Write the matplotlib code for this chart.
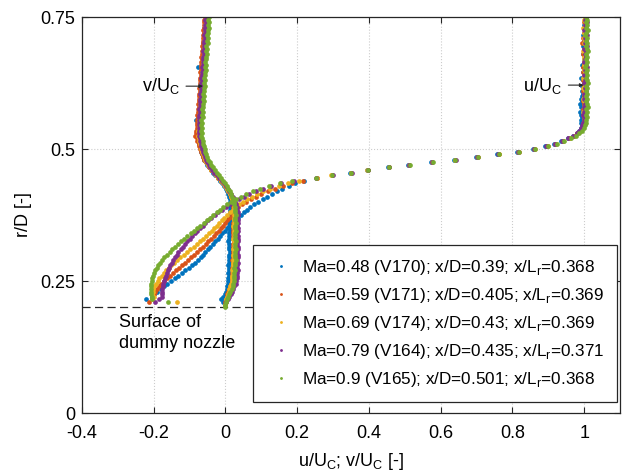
import matplotlib.pyplot as plt
import numpy as np

nan = np.nan

plt.rcParams.update({
    "font.size": 13,
    "font.family": "Liberation Sans",
    "mathtext.fontset": "custom",
    "mathtext.rm": "Liberation Sans",
    "axes.linewidth": 0.9,
})

# MATLAB default line colours
colors = ["#0072BD", "#D95319", "#EDB120", "#7E2F8E", "#77AC30"]

labels = [
    r"Ma=0.48 (V170); x/D=0.39; x/L$_\mathregular{r}$=0.368",
    r"Ma=0.59 (V171); x/D=0.405; x/L$_\mathregular{r}$=0.369",
    r"Ma=0.69 (V174); x/D=0.43; x/L$_\mathregular{r}$=0.369",
    r"Ma=0.79 (V164); x/D=0.435; x/L$_\mathregular{r}$=0.371",
    r"Ma=0.9 (V165); x/D=0.501; x/L$_\mathregular{r}$=0.368",
]

# radial positions of the PIV profile points
r_D = [
    0.750, 0.745, 0.740, 0.735, 0.730, 0.725, 0.720, 0.715, 0.710, 0.705,
    0.700, 0.695, 0.690, 0.685, 0.680, 0.675, 0.670, 0.665, 0.660, 0.655,
    0.650, 0.645, 0.640, 0.635, 0.630, 0.625, 0.620, 0.615, 0.610, 0.605,
    0.600, 0.595, 0.590, 0.585, 0.580, 0.575, 0.570, 0.565, 0.560, 0.555,
    0.550, 0.545, 0.540, 0.535, 0.530, 0.525, 0.520, 0.515, 0.510, 0.505,
    0.500, 0.495, 0.490, 0.485, 0.480, 0.475, 0.470, 0.465, 0.460, 0.455,
    0.450, 0.445, 0.440, 0.435, 0.430, 0.425, 0.420, 0.415, 0.410, 0.405,
    0.400, 0.395, 0.390, 0.385, 0.380, 0.375, 0.370, 0.365, 0.360, 0.355,
    0.350, 0.345, 0.340, 0.335, 0.330, 0.325, 0.320, 0.315, 0.310, 0.305,
    0.300, 0.295, 0.290, 0.285, 0.280, 0.275, 0.270, 0.265, 0.260, 0.255,
    0.250, 0.245, 0.240, 0.235, 0.230, 0.225, 0.220, 0.215, 0.210, 0.205, 0.200,
]

u_V170 = [
    1.004, 1.002, 1.006, 0.999, 1.003, 1.005, 1.001, 0.998, 1.003, 1.000,
    1.002, 0.997, 1.004, 1.001, 0.996, 1.003, 0.999, 1.002, 0.994, 0.998,
    1.001, 0.996, 1.003, 0.992, 0.998, 1.000, 0.995, 0.999, 0.993, 0.997,
    0.995, 0.990, 0.994, 0.988, 0.992, 0.996, 0.989, 0.991, 0.994, 0.990,
    0.991, 0.993, 0.990, 0.985, 0.980, 0.970, 0.955, 0.936, 0.915, 0.892,
    0.858, 0.812, 0.758, 0.699, 0.637, 0.573, 0.509, 0.452, 0.394, 0.347,
    0.296, 0.255, 0.220, 0.195, 0.176, 0.158, 0.143, 0.130, 0.117, 0.104,
    0.091, 0.080, 0.069, 0.060, 0.051, 0.042, 0.034, 0.026, 0.019, 0.012,
    0.005, -0.002, -0.009, -0.015, -0.022, -0.029, -0.036, -0.042, -0.049, -0.056,
    -0.063, -0.069, -0.076, -0.084, -0.093, -0.102, -0.112, -0.122, -0.132, -0.142,
    -0.152, -0.162, -0.172, -0.181, -0.190, -0.198, -0.206, -0.222, nan, nan, nan,
]
v_V170 = [
    -0.055, -0.057, -0.056, -0.058, -0.059, -0.057, -0.060, -0.058, -0.061, -0.060,
    -0.062, -0.059, -0.063, -0.061, -0.064, -0.062, -0.063, -0.064, -0.063, -0.077,
    -0.065, -0.067, -0.066, -0.068, -0.067, -0.069, -0.068, -0.070, -0.069, -0.071,
    -0.070, -0.072, -0.071, -0.073, -0.072, -0.074, -0.073, -0.075, -0.074, -0.081,
    -0.075, -0.077, -0.076, -0.078, -0.077, -0.078, -0.076, -0.075, -0.073, -0.071,
    -0.069, -0.067, -0.065, -0.062, -0.059, -0.055, -0.051, -0.046, -0.041, -0.035,
    -0.029, -0.022, -0.015, -0.009, -0.004, 0.001, 0.005, 0.008, 0.011, 0.013,
    0.014, 0.015, 0.014, 0.013, 0.012, 0.013, 0.011, 0.012, 0.010, 0.011,
    0.010, 0.012, 0.009, 0.011, 0.010, 0.008, 0.011, 0.009, 0.010, 0.012,
    0.010, 0.011, 0.009, 0.010, 0.008, 0.010, 0.009, 0.007, 0.009, 0.008,
    0.007, 0.006, 0.005, 0.004, 0.002, 0.000, -0.008, -0.012, -0.006, nan, nan,
]

u_V171 = [
    1.002, 1.005, 0.999, 1.004, 1.001, 1.006, 1.000, 1.003, 0.998, 1.004,
    0.993, 1.005, 0.999, 1.003, 0.996, 1.002, 1.004, 0.999, 1.001, 0.997,
    1.002, 0.998, 1.004, 1.000, 0.997, 1.003, 0.999, 1.001, 0.996, 1.002,
    0.999, 1.003, 0.997, 1.000, 1.002, 0.998, 1.001, 0.996, 0.999, 1.001,
    0.998, 0.996, 0.993, 0.988, 0.981, 0.972, 0.958, 0.940, 0.920, 0.896,
    0.861, 0.818, 0.762, 0.703, 0.641, 0.577, 0.512, 0.456, 0.397, 0.351,
    0.297, 0.256, 0.215, 0.185, 0.160, 0.138, 0.118, 0.100, 0.085, 0.071,
    0.058, 0.047, 0.036, 0.029, 0.023, 0.017, 0.011, 0.005, -0.001, -0.007,
    -0.013, -0.019, -0.026, -0.033, -0.040, -0.048, -0.055, -0.063, -0.071, -0.079,
    -0.088, -0.096, -0.104, -0.112, -0.120, -0.129, -0.137, -0.146, -0.155, -0.163,
    -0.171, -0.179, -0.186, -0.192, -0.197, -0.200, -0.203, -0.206, -0.212, nan, nan,
]
v_V171 = [
    -0.058, -0.060, -0.059, -0.061, -0.060, -0.062, -0.061, -0.063, -0.062, -0.064,
    -0.063, -0.065, -0.064, -0.066, -0.065, -0.067, -0.066, -0.068, -0.067, -0.069,
    -0.068, -0.070, -0.069, -0.071, -0.070, -0.072, -0.071, -0.073, -0.072, -0.074,
    -0.073, -0.075, -0.074, -0.076, -0.075, -0.077, -0.076, -0.078, -0.077, -0.079,
    -0.078, -0.080, -0.079, -0.083, -0.081, -0.084, -0.080, -0.078, -0.075, -0.073,
    -0.071, -0.069, -0.066, -0.063, -0.059, -0.055, -0.050, -0.045, -0.039, -0.033,
    -0.027, -0.020, -0.013, -0.007, -0.002, 0.003, 0.008, 0.012, 0.015, 0.018,
    0.020, 0.021, 0.022, 0.021, 0.023, 0.022, 0.021, 0.023, 0.022, 0.020,
    0.021, 0.022, 0.020, 0.022, 0.021, 0.023, 0.021, 0.020, 0.022, 0.021,
    0.020, 0.021, 0.019, 0.020, 0.021, 0.019, 0.020, 0.018, 0.019, 0.018,
    0.017, 0.015, 0.013, 0.011, 0.008, 0.005, 0.003, 0.001, 0.000, -0.001, nan,
]

u_V174 = [
    1.003, 1.000, 1.005, 1.002, 0.998, 1.004, 1.001, 1.006, 0.999, 1.003,
    1.000, 1.004, 1.002, 0.998, 1.005, 1.001, 0.999, 1.003, 1.000, 1.004,
    0.999, 1.003, 1.001, 0.997, 1.004, 1.000, 1.002, 0.998, 1.003, 1.000,
    1.002, 0.998, 1.001, 1.004, 0.999, 1.002, 0.997, 1.001, 1.003, 0.999,
    1.000, 0.997, 0.994, 0.989, 0.982, 0.973, 0.960, 0.941, 0.921, 0.898,
    0.863, 0.816, 0.763, 0.702, 0.639, 0.576, 0.511, 0.455, 0.396, 0.350,
    0.295, 0.254, 0.205, 0.175, 0.148, 0.125, 0.105, 0.088, 0.073, 0.060,
    0.048, 0.037, 0.028, 0.020, 0.012, 0.004, -0.003, -0.010, -0.017, -0.024,
    -0.031, -0.038, -0.046, -0.054, -0.062, -0.071, -0.080, -0.089, -0.099, -0.108,
    -0.117, -0.126, -0.134, -0.143, -0.151, -0.158, -0.165, -0.172, -0.178, -0.184,
    -0.189, -0.194, -0.198, -0.201, -0.203, -0.204, -0.200, -0.205, -0.136, nan, nan,
]
v_V174 = [
    -0.053, -0.055, -0.054, -0.056, -0.055, -0.057, -0.056, -0.058, -0.057, -0.059,
    -0.058, -0.060, -0.059, -0.061, -0.060, -0.062, -0.061, -0.063, -0.062, -0.064,
    -0.063, -0.065, -0.064, -0.066, -0.065, -0.067, -0.066, -0.068, -0.067, -0.069,
    -0.068, -0.070, -0.069, -0.071, -0.070, -0.072, -0.071, -0.073, -0.072, -0.074,
    -0.073, -0.075, -0.074, -0.076, -0.075, -0.076, -0.074, -0.073, -0.071, -0.069,
    -0.067, -0.065, -0.063, -0.060, -0.057, -0.053, -0.049, -0.044, -0.039, -0.033,
    -0.027, -0.020, -0.013, -0.007, -0.002, 0.003, 0.008, 0.012, 0.016, 0.019,
    0.021, 0.023, 0.024, 0.023, 0.025, 0.024, 0.023, 0.025, 0.024, 0.022,
    0.024, 0.025, 0.023, 0.024, 0.022, 0.025, 0.023, 0.024, 0.022, 0.023,
    0.022, 0.023, 0.021, 0.022, 0.020, 0.021, 0.019, 0.020, 0.018, 0.019,
    0.017, 0.015, 0.013, 0.011, 0.009, 0.006, 0.004, 0.002, 0.001, 0.000, nan,
]

u_V164 = [
    1.005, 1.002, 1.007, 1.003, 1.006, 1.001, 1.004, 1.008, 1.002, 1.005,
    1.003, 1.007, 1.001, 1.005, 1.002, 1.006, 1.003, 1.000, 1.004, 1.007,
    1.002, 1.005, 1.001, 1.006, 1.003, 1.000, 1.004, 1.002, 1.005, 1.001,
    1.003, 1.000, 1.004, 1.002, 0.999, 1.003, 1.001, 0.998, 1.002, 1.000,
    0.997, 0.995, 0.991, 0.986, 0.979, 0.969, 0.956, 0.938, 0.918, 0.894,
    0.860, 0.815, 0.761, 0.701, 0.642, 0.576, 0.513, 0.457, 0.398, 0.352,
    0.299, 0.252, 0.190, 0.155, 0.128, 0.105, 0.085, 0.067, 0.051, 0.037,
    0.024, 0.012, 0.001, -0.010, -0.020, -0.030, -0.039, -0.048, -0.056, -0.064,
    -0.071, -0.079, -0.086, -0.093, -0.100, -0.107, -0.113, -0.119, -0.125, -0.131,
    -0.136, -0.141, -0.146, -0.150, -0.154, -0.158, -0.161, -0.164, -0.167, -0.169,
    -0.171, -0.173, -0.175, -0.176, -0.177, -0.176, -0.178, -0.186, -0.196, nan, nan,
]
v_V164 = [
    -0.054, -0.056, -0.055, -0.057, -0.056, -0.058, -0.057, -0.059, -0.058, -0.060,
    -0.059, -0.061, -0.060, -0.062, -0.061, -0.063, -0.062, -0.064, -0.063, -0.065,
    -0.064, -0.066, -0.065, -0.067, -0.066, -0.068, -0.067, -0.069, -0.068, -0.070,
    -0.069, -0.071, -0.070, -0.072, -0.071, -0.073, -0.072, -0.074, -0.073, -0.074,
    -0.073, -0.075, -0.074, -0.075, -0.074, -0.074, -0.072, -0.071, -0.069, -0.067,
    -0.065, -0.063, -0.061, -0.058, -0.055, -0.051, -0.047, -0.042, -0.037, -0.031,
    -0.025, -0.018, -0.011, -0.005, 0.001, 0.006, 0.011, 0.016, 0.020, 0.024,
    0.027, 0.030, 0.032, 0.033, 0.034, 0.035, 0.033, 0.034, 0.035, 0.033,
    0.034, 0.035, 0.033, 0.034, 0.036, 0.034, 0.033, 0.035, 0.034, 0.033,
    0.034, 0.035, 0.033, 0.034, 0.032, 0.033, 0.034, 0.032, 0.033, 0.031,
    0.030, 0.028, 0.025, 0.022, 0.019, 0.015, 0.011, 0.006, 0.002, nan, nan,
]

u_V165 = [
    1.006, 1.009, 1.004, 1.008, 1.005, 1.010, 1.006, 1.003, 1.008, 1.005,
    1.009, 1.004, 1.007, 1.010, 1.005, 1.008, 1.004, 1.009, 1.006, 1.003,
    1.008, 1.005, 1.009, 1.004, 1.007, 1.010, 1.005, 1.008, 1.004, 1.007,
    1.005, 1.009, 1.004, 1.007, 1.010, 1.005, 1.008, 1.006, 1.009, 1.005,
    1.006, 1.003, 1.000, 0.994, 0.986, 0.976, 0.962, 0.944, 0.924, 0.899,
    0.864, 0.819, 0.764, 0.704, 0.640, 0.578, 0.514, 0.455, 0.398, 0.349,
    0.297, 0.253, 0.186, 0.152, 0.122, 0.097, 0.076, 0.058, 0.042, 0.028,
    0.015, 0.004, -0.006, -0.016, -0.025, -0.034, -0.043, -0.052, -0.061, -0.070,
    -0.079, -0.088, -0.097, -0.106, -0.115, -0.124, -0.132, -0.140, -0.148, -0.156,
    -0.163, -0.170, -0.176, -0.182, -0.187, -0.192, -0.196, -0.199, -0.202, -0.204,
    -0.206, -0.207, -0.208, -0.208, -0.208, -0.207, -0.206, -0.204, -0.159, nan, nan,
]
v_V165 = [
    -0.046, -0.048, -0.045, -0.049, -0.047, -0.050, -0.048, -0.051, -0.049, -0.052,
    -0.050, -0.053, -0.051, -0.054, -0.052, -0.055, -0.053, -0.056, -0.054, -0.057,
    -0.055, -0.058, -0.056, -0.059, -0.057, -0.060, -0.058, -0.061, -0.059, -0.062,
    -0.060, -0.063, -0.061, -0.064, -0.062, -0.065, -0.063, -0.066, -0.064, -0.067,
    -0.065, -0.067, -0.066, -0.068, -0.066, -0.067, -0.065, -0.064, -0.062, -0.060,
    -0.058, -0.056, -0.054, -0.051, -0.048, -0.044, -0.040, -0.035, -0.030, -0.024,
    -0.019, -0.013, -0.007, -0.002, 0.003, 0.008, 0.012, 0.016, 0.019, 0.022,
    0.024, 0.025, 0.026, 0.027, 0.026, 0.028, 0.027, 0.026, 0.028, 0.027,
    0.026, 0.028, 0.027, 0.026, 0.027, 0.028, 0.026, 0.027, 0.028, 0.026,
    0.027, 0.026, 0.028, 0.026, 0.027, 0.025, 0.026, 0.025, 0.024, 0.025,
    0.023, 0.022, 0.020, 0.017, 0.014, 0.011, 0.007, 0.004, 0.001, -0.001, -0.002,
]

u_profiles = [u_V170, u_V171, u_V174, u_V164, u_V165]
v_profiles = [v_V170, v_V171, v_V174, v_V164, v_V165]

x_ticks = [-0.4, -0.2, 0, 0.2, 0.4, 0.6, 0.8, 1.0]
x_ticklabels = ["-0.4", "-0.2", "0", "0.2", "0.4", "0.6", "0.8", "1"]
y_ticks = [0, 0.25, 0.5, 0.75]
y_ticklabels = ["0", "0.25", "0.5", "0.75"]
nozzle_surface = 0.2

axis_color = "0.15"

fig = plt.figure(figsize=(6.23, 4.75), dpi=100)
ax = fig.add_axes([82 / 623, 62 / 475, 538 / 623, 396 / 475])

for u, v, c, lab in zip(u_profiles, v_profiles, colors, labels):
    ax.plot(u, r_D, "o", ms=3.4, mew=0, color=c, label=lab)
    ax.plot(v, r_D, "o", ms=3.4, mew=0, color=c)

ax.axhline(nozzle_surface, color=axis_color, lw=0.9, ls=(0, (6.5, 3.5)), zorder=1)

ax.set_xlim(-0.4, 1.1)
ax.set_ylim(0, 0.75)
ax.set_xticks(x_ticks)
ax.set_xticklabels(x_ticklabels)
ax.set_yticks(y_ticks)
ax.set_yticklabels(y_ticklabels)
ax.tick_params(direction="in", top=True, right=True, length=4.5, width=0.8,
               color=axis_color, labelcolor="black")
ax.tick_params(axis="x", pad=9)
ax.tick_params(axis="y", pad=5)
for sp in ax.spines.values():
    sp.set_color(axis_color)
ax.grid(True, ls=":", color="0.8", lw=0.8)
ax.set_axisbelow(True)

ax.set_xlabel(r"u/U$_\mathregular{C}$; v/U$_\mathregular{C}$ [-]", labelpad=6)
ax.set_ylabel("r/D [-]", labelpad=6)

# profile labels with small arrows
ax.text(-0.128, 0.610, r"v/U$_\mathregular{C}$", ha="right", va="baseline")
ax.annotate("", xy=(-0.063, 0.619), xytext=(-0.110, 0.619),
            arrowprops=dict(arrowstyle="-|>", color=axis_color, lw=0.8,
                            mutation_scale=5, shrinkA=0, shrinkB=0))
ax.text(0.937, 0.610, r"u/U$_\mathregular{C}$", ha="right", va="baseline")
ax.annotate("", xy=(0.998, 0.621), xytext=(0.956, 0.621),
            arrowprops=dict(arrowstyle="-|>", color=axis_color, lw=0.8,
                            mutation_scale=5, shrinkA=0, shrinkB=0))

ax.text(-0.298, 0.187, "Surface of\ndummy nozzle", ha="left", va="top",
        linespacing=1.25)

leg = ax.legend(loc="lower right", bbox_to_anchor=(0.994, 0.028),
                borderaxespad=0, fancybox=False, framealpha=1,
                edgecolor=axis_color, markerscale=0.6, handlelength=1.8,
                handletextpad=0.3, borderpad=0.75, labelspacing=0.53,
                fontsize=12.3)
leg.get_frame().set_linewidth(0.9)

fig.savefig("out.png", dpi=100)
